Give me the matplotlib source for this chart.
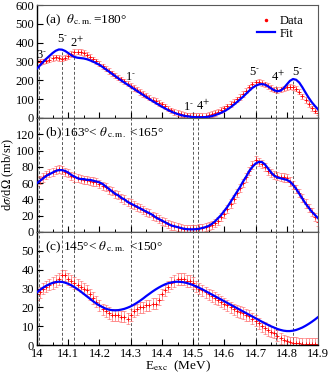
import numpy as np
import matplotlib
matplotlib.use("Agg")
import matplotlib.pyplot as plt
from matplotlib.lines import Line2D

plt.rcParams['font.family'] = ['Liberation Serif', 'DejaVu Serif']
plt.rcParams['mathtext.fontset'] = 'stix'

energy = [round(14.0 + 0.01 * i, 2) for i in range(91)]

data_a = [295, 298, 300, 305, 310, 318, 322, 318, 315, 320,
          328, 340, 350, 352, 350, 345, 335, 325, 312, 300,
          288, 275, 262, 250, 238, 225, 215, 205, 195, 183,
          172, 160, 150, 138, 128, 118, 108, 98, 90, 80,
          72, 62, 50, 40, 32, 26, 21, 18, 15, 12,
          11, 10, 10, 11, 13, 17, 21, 27, 34, 42,
          51, 62, 74, 86, 99, 112, 127, 145, 163, 178,
          190, 192, 186, 178, 170, 160, 150, 148, 152, 158,
          163, 166, 162, 155, 140, 115, 95, 75, 52, 38, 28]
fit_a = [262, 280, 298, 315, 330, 345, 357, 364, 363, 356,
         345, 333, 324, 320, 318, 316, 312, 306, 299, 291,
         282, 271, 259, 247, 235, 223, 211, 199, 188, 177,
         166, 155, 144, 133, 122, 111, 100, 90, 80, 70,
         60, 51, 42, 34, 27, 21, 16, 12, 9, 7,
         5, 4, 4, 4, 5, 7, 10, 15, 21, 28,
         36, 46, 57, 70, 84, 98, 113, 129, 145, 160,
         171, 178, 180, 177, 168, 157, 147, 142, 145, 158,
         178, 197, 207, 203, 188, 163, 135, 108, 84, 64, 46]

data_b = [62, 64, 67, 70, 72, 74, 76, 77, 76, 74,
          72, 69, 67, 66, 65, 64, 64, 63, 62, 61,
          59, 57, 55, 52, 50, 47, 45, 42, 40, 37,
          35, 33, 31, 29, 27, 25, 23, 20, 18, 16,
          14, 12, 10, 8, 7, 6, 5, 4, 4, 4,
          4, 4, 5, 5, 6, 7, 9, 11, 14, 18,
          22, 28, 35, 41, 48, 54, 60, 67, 75, 82,
          88, 86, 84, 80, 75, 72, 70, 69, 68, 67,
          66, 62, 58, 53, 48, 42, 35, 30, 25, 18, 12]
fit_b = [60, 63, 66, 69, 71, 73, 75, 76, 76, 75,
         73, 70, 68, 66, 65, 65, 64, 64, 63, 62,
         61, 59, 56, 53, 50, 47, 45, 42, 40, 37,
         35, 33, 31, 29, 27, 25, 23, 21, 18, 16,
         14, 12, 10, 8, 7, 6, 5, 4, 3.5, 3.3,
         3.3, 3.5, 4, 5, 6, 7.5, 10, 13, 17, 21,
         26, 31, 37, 43, 49, 55, 62, 68, 75, 80,
         84, 86, 86, 83, 78, 73, 69, 67, 66, 65,
         64, 62, 58, 53, 47, 41, 35, 30, 25, 21, 17]

data_c = [27, 28, 30, 31, 32, 33, 34, 35, 37, 37,
          35, 34, 33, 32, 31, 30, 29, 27, 25, 23,
          21, 19, 18, 17, 16, 16, 16, 15, 15, 14,
          16, 18, 19, 20, 20, 21, 21, 22, 22, 24,
          27, 29, 31, 33, 34, 35, 35, 35, 34, 34,
          33, 31, 30, 29, 28, 27, 26, 25, 24, 23,
          22, 21, 20, 19, 18, 17.5, 17, 16, 15.5, 14,
          13, 11.5, 10, 9, 8, 7, 6.5, 5, 3.6, 2.5,
          2, 1.5, 1, 1, 0.8, 0.7, 0.6, 0.5, 0.5, 0.5, 0.5]
fit_c = [28, 29.3, 30.5, 31.5, 32.3, 33, 33.4, 33.6, 33.5, 33.1,
         32.5, 31.7, 30.7, 29.6, 28.4, 27.1, 25.8, 24.5, 23.2, 22,
         21, 20.1, 19.3, 18.8, 18.5, 18.4, 18.5, 18.8, 19.2, 19.8,
         20.5, 21.4, 22.4, 23.5, 24.7, 26, 27.2, 28.4, 29.5, 30.5,
         31.4, 32.2, 32.8, 33.2, 33.5, 33.6, 33.5, 33.3, 32.9, 32.4,
         31.8, 31.1, 30.3, 29.5, 28.6, 27.7, 26.8, 25.9, 25, 24.1,
         23.2, 22.3, 21.4, 20.5, 19.6, 18.7, 17.8, 16.9, 16, 15.1,
         14.2, 13.3, 12.4, 11.5, 10.7, 9.9, 9.2, 8.5, 8, 7.6,
         7.4, 7.4, 7.6, 8, 8.6, 9.3, 10.2, 11.2, 12.3, 13.5, 14.8]

err_a = 14
err_b = 5
err_c = 3

state_energy = [14.005, 14.08, 14.12, 14.30, 14.50, 14.515, 14.70, 14.765, 14.82]
state_label = ["3$^{\\text{-}}$", "5$^{\\text{-}}$", "2$^{+}$", "1$^{\\text{-}}$", "1$^{\\text{-}}$",
               "4$^{+}$", "5$^{\\text{-}}$", "4$^{+}$", "5$^{\\text{-}}$"]
label_x = [14.014, 14.083, 14.128, 14.300, 14.484, 14.532, 14.698, 14.772, 14.833]
label_y = [300, 385, 360, 185, 28, 28, 212, 180, 212]
line_top = [285, 360, 325, 180, 25, 25, 200, 170, 200]

panels = [
    (data_a, fit_a, err_a, 600, 100, r"(a)  $\theta_{\,\mathrm{c.m.}}$=180°"),
    (data_b, fit_b, err_b, 140, 20, r"(b) 163°< $\theta_{\,\mathrm{c.m.}}$ <165°"),
    (data_c, fit_c, err_c, 60, 10, r"(c) 145°< $\theta_{\,\mathrm{c.m.}}$ <150°"),
]

fig = plt.figure(figsize=(3.30, 3.76), dpi=100)
left, right = 37 / 330, 318 / 330
tops = [5, 118, 232]
bots = [118, 232, 345]
axes = []
for i in range(3):
    b = 1 - bots[i] / 376
    h = (bots[i] - tops[i]) / 376
    axes.append(fig.add_axes([left, b, right - left, h]))

for i, (ax, (d, f, e, ymax, ystep, title)) in enumerate(zip(axes, panels)):
    ax.errorbar(energy, d, yerr=e, fmt='+', color='red', ms=2.2, mew=0.6,
                ecolor=(1, 0.25, 0.25, 0.55), elinewidth=0.7, capsize=1.6, capthick=0.7, zorder=2)
    ax.plot(energy, f, color='#0000ff', lw=1.6, zorder=3)
    ax.set_xlim(14.0, 14.9)
    ax.set_ylim(0, ymax)
    for k, se in enumerate(state_energy):
        if i == 0:
            ax.plot([se, se], [0, line_top[k]], ls=(0, (3, 2)), color='0.35', lw=0.7, zorder=1)
        else:
            ax.axvline(se, ls=(0, (3, 2)), color='0.35', lw=0.7, zorder=1)
    ticks = list(np.arange(0, ymax + 0.1, ystep))
    ax.set_yticks(ticks)
    labels = [str(int(t)) for t in ticks]
    if i > 0:
        labels[-1] = ""
    ax.set_yticklabels(labels)
    ax.set_xticks(np.arange(14.0, 14.91, 0.1))
    ax.set_xticks(np.arange(14.05, 14.9, 0.1), minor=True)
    ax.tick_params(axis='both', which='major', direction='in', length=4, width=0.8,
                   labelsize=9, pad=2, top=False, right=False)
    ax.tick_params(axis='x', which='minor', direction='in', length=2.5, width=0.7, top=False)
    if i < 2:
        ax.set_xticklabels([])
    else:
        ax.set_xticklabels(["14", "14.1", "14.2", "14.3", "14.4", "14.5", "14.6", "14.7", "14.8", "14.9"])
    for s in ['left', 'bottom']:
        ax.spines[s].set_linewidth(1.0)
        ax.spines[s].set_color('black')
    for s in ['top', 'right']:
        ax.spines[s].set_linewidth(0.8)
        ax.spines[s].set_color('0.35')
    ax.text(0.03, 0.93, title, transform=ax.transAxes, fontsize=9.5, va='top', ha='left')

ax = axes[0]
for k in range(len(state_energy)):
    ax.text(label_x[k], label_y[k], state_label[k], fontsize=9, ha='center', va='bottom')

handles = [Line2D([], [], ls='none', marker='.', color='red', ms=3),
           Line2D([], [], color='#0000ff', lw=1.6)]
ax.legend(handles, ["Data", "Fit"], loc='upper right', bbox_to_anchor=(0.98, 0.99),
          frameon=False, fontsize=9, handlelength=1.4, handletextpad=0.4,
          labelspacing=0.05, borderpad=0.2)

fig.text(0.025, 0.5 * ((1 - 232 / 376) + (1 - 118 / 376)), r"d$\sigma$/d$\Omega$ (mb/sr)",
         rotation=90, va='center', ha='center', fontsize=9)
fig.text(0.5 * (left + right), 0.004, r"E$_{\mathrm{exc}}$  (MeV)", ha='center', va='bottom', fontsize=9.5)

fig.savefig("out.png", dpi=100)
